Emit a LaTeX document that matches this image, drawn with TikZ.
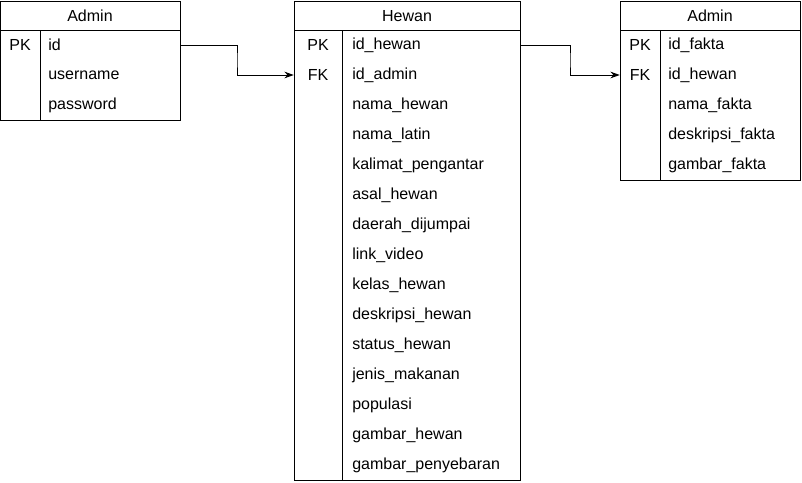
\documentclass[tikz,border=0pt]{standalone}
\usepackage{fontspec}
\setmainfont{Liberation Sans}
\usetikzlibrary{arrows.meta,calc}
\begin{document}
\begin{tikzpicture}[x=0.75pt,y=-0.75pt,
  tbl/.style={draw=black,line width=0.75pt,inner sep=0pt,fill=white},
  rowbox/.style={inner sep=0pt,minimum height=22.5pt},
  keytxt/.style={font=\fontsize{12}{14}\selectfont,inner sep=0pt,anchor=center},
  fldtxt/.style={font=\fontsize{12}{14}\selectfont,inner sep=0pt,anchor=west},
  title/.style={font=\fontsize{12}{14}\selectfont,inner sep=0pt},
  arr/.style={line width=0.75pt,-{Stealth[length=7pt,width=5pt]}},
  sep/.style={line width=0.75pt}]
\useasboundingbox (0,0) rectangle (802,482);
% ---------- left Admin ----------
\node[tbl,minimum width=135pt,minimum height=89.25pt] (admA) at (90,60.5) {};
\draw[sep] (0,30) -- (180,30);
\draw[sep] (40,30) -- (40,120);
\node[title] (admAt) at (90,16) {Admin};
\node[rowbox,minimum width=135pt] (aid) at (90,45) {};
\node[keytxt] (aidk) at (20,45) {PK};
\node[fldtxt] (aidf) at (48,45) {id};
\node[fldtxt] (aun) at (48,75) {username};
\node[fldtxt] (apw) at (48,105) {password};
% ---------- Hewan ----------
\node[tbl,minimum width=169.5pt,minimum height=359.25pt] (hew) at (407,240.5) {};
\draw[sep] (294,30) -- (520,30);
\draw[sep] (342,30) -- (342,480);
\node[title] (hewt) at (407,16) {Hewan};
\node[rowbox,minimum width=169.5pt] (hid) at (407,45) {};
\node[rowbox,minimum width=169.5pt] (hadm) at (407,75) {};
\node[keytxt] (hidk) at (318,45) {PK};
\node[keytxt] (hadmk) at (318,75) {FK};
\foreach \n/\t [count=\i from 0] in {h0/id\_hewan,h1/id\_admin,h2/nama\_hewan,h3/nama\_latin,h4/kalimat\_pengantar,h5/asal\_hewan,h6/daerah\_dijumpai,h7/link\_video,h8/kelas\_hewan,h9/deskripsi\_hewan,h10/status\_hewan,h11/jenis\_makanan,h12/populasi,h13/gambar\_hewan,h14/gambar\_penyebaran}
  \node[fldtxt] (\n) at (352,45+30*\i) {\t};
% ---------- right Admin ----------
\node[tbl,minimum width=135pt,minimum height=134.25pt] (admB) at (710,90.5) {};
\draw[sep] (620,30) -- (800,30);
\draw[sep] (660,30) -- (660,180);
\node[title] (admBt) at (710,16) {Admin};
\node[rowbox,minimum width=135pt] (fhew) at (710,75) {};
\node[keytxt] (fidk) at (640,45) {PK};
\node[keytxt] (fhewk) at (640,75) {FK};
\foreach \n/\t [count=\i from 0] in {f0/id\_fakta,f1/id\_hewan,f2/nama\_fakta,f3/deskripsi\_fakta,f4/gambar\_fakta}
  \node[fldtxt] (\n) at (668,45+30*\i) {\t};
% ---------- connectors ----------
\draw[arr] (aid.east) -| ($(aid.east)!0.5!(hadm.west)$) |- (hadm.west);
\draw[arr] (hid.east) -| ($(hid.east)!0.5!(fhew.west)$) |- (fhew.west);
\end{tikzpicture}
\end{document}
